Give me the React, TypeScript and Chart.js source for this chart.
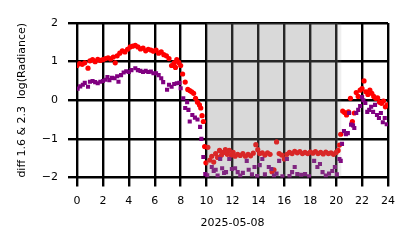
import React, { useEffect, useRef } from "react";
import { Chart, registerables } from "chart.js";

Chart.register(...registerables);

const xTicksTitle = "2025-05-08";
const yTitle = "diff 1.6 & 2.3  log(Radiance)";

const redHours = [
  0.0, 0.2, 0.4, 0.6, 0.85, 1.0, 1.2, 1.4, 1.6, 1.8, 2.0, 2.2, 2.4, 2.6, 2.8, 2.95, 3.1, 3.3, 3.5, 3.7,
  3.9, 4.1, 4.3, 4.5, 4.7, 4.9, 5.1, 5.3, 5.5, 5.7, 5.9, 6.1, 6.3, 6.5, 6.7, 6.9, 7.1, 7.3, 7.5, 7.6,
  7.7, 7.85, 8.0, 8.15, 8.35, 8.55, 8.7, 8.85, 9.0, 9.15, 9.3, 9.45, 9.55, 9.65, 9.75, 9.85, 9.95, 10.1, 10.25, 10.4,
  10.55, 10.7, 10.85, 11.0, 11.15, 11.3, 11.45, 11.6, 11.75, 11.9, 12.05, 12.2, 12.4, 12.6, 12.8, 13.0, 13.2, 13.4, 13.6, 13.8,
  13.95, 14.1, 14.3, 14.5, 14.7, 14.9, 15.05, 15.2, 15.4, 15.6, 15.8, 16.0, 16.2, 16.4, 16.6, 16.8, 17.0, 17.2, 17.4, 17.6,
  17.8, 18.0, 18.2, 18.4, 18.6, 18.8, 19.0, 19.2, 19.4, 19.6, 19.8, 20.0, 20.15, 20.25, 20.35, 20.5, 20.65, 20.8, 20.95, 21.1,
  21.25, 21.4, 21.55, 21.7, 21.85, 22.0, 22.15, 22.3, 22.45, 22.6, 22.75, 22.9, 23.05, 23.2, 23.35, 23.5, 23.65, 23.8, 23.95,
];
const redValues = [
  0.9, 0.95, 0.93, 0.97, 0.83, 1.02, 1.05, 1.0, 1.06, 1.03, 1.05, 1.08, 1.1, 1.07, 1.12, 0.97, 1.15, 1.22, 1.28, 1.25,
  1.32, 1.38, 1.4, 1.42, 1.38, 1.33, 1.35, 1.28, 1.32, 1.3, 1.27, 1.3, 1.22, 1.25, 1.18, 1.15, 1.08, 0.9, 0.97, 0.85,
  1.05, 0.98, 0.9, 0.68, 0.47, 0.28, 0.25, 0.22, 0.18, 0.05, -0.05, -0.12, -0.2, -0.4, -0.55, -1.2, -1.62, -1.22, -1.55, -1.45,
  -1.6, -1.38, -1.48, -1.3, -1.42, -1.35, -1.28, -1.4, -1.3, -1.42, -1.35, -1.45, -1.4, -1.43, -1.38, -1.45, -1.4, -1.44, -1.37, -1.15,
  -1.28, -1.38, -1.36, -1.42, -1.36, -1.4, -1.85, -1.8, -1.08, -1.38, -1.42, -1.52, -1.4, -1.35, -1.38, -1.32, -1.36, -1.33, -1.38, -1.35,
  -1.38, -1.34, -1.37, -1.33, -1.38, -1.35, -1.39, -1.34, -1.38, -1.36, -1.4, -1.35, -1.3, -1.16, -0.88, -0.28, -0.32, -0.38, -0.3, 0.05,
  -0.55, -0.33, 0.2, 0.1, 0.26, 0.3, 0.5, 0.22, 0.15, 0.26, 0.18, 0.1, 0.05, 0.06, -0.05, -0.08, -0.02, -0.17, -0.12,
];

const purpleHours = [
  0.05, 0.25, 0.45, 0.6, 0.85, 1.0, 1.2, 1.4, 1.6, 1.8, 2.0, 2.2, 2.35, 2.5, 2.7, 2.9, 3.1, 3.2, 3.4, 3.6,
  3.8, 4.0, 4.2, 4.5, 4.7, 4.9, 5.1, 5.3, 5.5, 5.7, 5.9, 6.1, 6.3, 6.5, 6.65, 6.95, 7.1, 7.3, 7.5, 7.7,
  7.9, 8.0, 8.2, 8.35, 8.5, 8.6, 8.7, 8.9, 9.1, 9.3, 9.5, 9.6, 9.75, 9.9, 10.05, 10.4, 10.55, 10.7, 10.85, 11.05,
  11.2, 11.35, 11.5, 11.75, 11.95, 12.2, 12.4, 12.6, 12.8, 13.1, 13.25, 13.5, 13.7, 13.9, 14.1, 14.3, 14.5, 14.8, 15.0, 15.2,
  15.4, 15.6, 15.85, 16.2, 16.4, 16.6, 16.8, 17.0, 17.3, 17.6, 17.9, 18.3, 18.55, 18.75, 18.95, 19.2, 19.45, 19.7, 19.9, 20.05,
  20.25, 20.35, 20.45, 20.6, 20.75, 20.9, 21.0, 21.15, 21.3, 21.4, 21.55, 21.7, 21.85, 22.0, 22.1, 22.25, 22.4, 22.55, 22.7, 22.85,
  23.0, 23.15, 23.3, 23.45, 23.6, 23.75, 23.9,
];
const purpleValues = [
  0.3, 0.36, 0.4, 0.45, 0.35, 0.48, 0.5, 0.47, 0.44, 0.48, 0.5, 0.53, 0.6, 0.52, 0.58, 0.57, 0.62, 0.48, 0.65, 0.72,
  0.75, 0.73, 0.78, 0.83, 0.78, 0.76, 0.73, 0.76, 0.73, 0.74, 0.7, 0.7, 0.65, 0.57, 0.47, 0.27, 0.4, 0.35, 0.42, 0.44,
  0.45, 0.31, 0.05, -0.2, -0.05, -0.25, -0.55, -0.38, -0.45, -0.5, -0.69, -1.0, -1.47, -1.91, -1.94, -1.73, -1.83, -1.8, -1.95, -1.52,
  -1.76, -1.88, -1.86, -1.52, -1.78, -1.76, -1.86, -1.95, -1.88, -1.57, -1.8, -1.92, -1.73, -1.96, -1.68, -1.52, -1.92, -1.73, -1.78, -1.95,
  -1.9, -1.57, -1.97, -1.52, -1.96, -1.86, -1.73, -1.91, -1.93, -1.91, -1.97, -1.57, -1.73, -1.65, -1.86, -1.95, -1.9, -1.83, -1.73, -1.92,
  -1.52, -1.57, -1.13, -0.8, -0.88, -0.85, -0.33, -0.63, -0.65, -0.72, -0.33, -0.25, -0.15, 0.08, 0.0, -0.07, -0.3, -0.25, -0.17, -0.3,
  -0.12, -0.38, -0.46, -0.33, -0.57, -0.46, -0.62,
];

const xTickValues = [0, 24, 2];
const yTickValues = [-2, 2, 1];
const shadeStart = [10.0];
const shadeEnd = [20.15];
const shadeFadeEnd = [20.4];

const FONT = "'DejaVu Sans', sans-serif";

const shadePlugin = {
  id: "shade",
  afterDatasetsDraw(chart: any) {
    const { ctx, chartArea, scales } = chart;
    const x = scales.x;
    ctx.save();
    for (let i = 0; i < shadeStart.length; i++) {
      const x0 = x.getPixelForValue(shadeStart[i]);
      const x1 = x.getPixelForValue(shadeEnd[i]);
      const x2 = x.getPixelForValue(shadeFadeEnd[i]);
      ctx.fillStyle = "rgba(128,128,128,0.3)";
      ctx.fillRect(x0, chartArea.top, x1 - x0, chartArea.bottom - chartArea.top);
      ctx.fillStyle = "rgba(128,128,128,0.13)";
      ctx.fillRect(x1, chartArea.top, x2 - x1, chartArea.bottom - chartArea.top);
    }
    ctx.restore();
  },
};

export default function App() {
  const ref = useRef<HTMLCanvasElement | null>(null);
  useEffect(() => {
    if (!ref.current) return;
    const red = redHours.map((h, i) => ({ x: h, y: redValues[i] }));
    const purple = purpleHours.map((h, i) => ({ x: h, y: purpleValues[i] }));
    const chart = new Chart(ref.current, {
      type: "scatter",
      data: {
        datasets: [
          {
            data: purple,
            backgroundColor: "#800080",
            borderWidth: 0,
            pointStyle: "rect",
            pointRadius: 2.9,
          },
          {
            data: red,
            backgroundColor: "#ff0000",
            borderWidth: 0,
            pointStyle: "circle",
            pointRadius: 2.6,
          },
        ],
      },
      options: {
        animation: false,
        responsive: false,
        layout: { padding: { left: 0, right: 26, top: 23, bottom: 0 } },
        plugins: { legend: { display: false }, tooltip: { enabled: false } },
        scales: {
          x: {
            type: "linear",
            min: xTickValues[0],
            max: xTickValues[1],
            afterFit: (s: any) => {
              s.height = 70.5;
            },
            ticks: {
              stepSize: xTickValues[2],
              padding: 8,
              color: "#000",
              font: { family: FONT, size: 11 },
              maxRotation: 0,
            },
            grid: { color: "#000", lineWidth: 2.4, tickLength: 9, tickColor: "#000", tickWidth: 2.4 },
            border: { display: false },
            title: {
              display: true,
              text: xTicksTitle,
              color: "#000",
              font: { family: FONT, size: 11 },
              padding: { top: 0, bottom: 18.4 },
            },
          },
          y: {
            type: "linear",
            min: yTickValues[0],
            max: yTickValues[1],
            afterFit: (s: any) => {
              s.width = 77;
            },
            ticks: {
              stepSize: yTickValues[2],
              padding: 10,
              color: "#000",
              font: { family: FONT, size: 11 },
              callback: (v: any) => (Number(v) < 0 ? "\u2212" + Math.abs(Number(v)) : String(v)),
            },
            grid: { color: "#000", lineWidth: 2.4, tickLength: 9, tickColor: "#000", tickWidth: 2.4 },
            border: { display: false },
            title: {
              display: true,
              text: yTitle,
              color: "#000",
              font: { family: FONT, size: 11 },
              padding: { top: 15.4, bottom: 0 },
            },
          },
        },
      },
      plugins: [shadePlugin],
    });
    return () => chart.destroy();
  }, []);
  return (
    <div style={{ position: "absolute", left: 0, top: 0, width: 414, height: 248, background: "#fff" }}>
      <canvas ref={ref} width={414} height={248} style={{ display: "block" }} />
    </div>
  );
}
